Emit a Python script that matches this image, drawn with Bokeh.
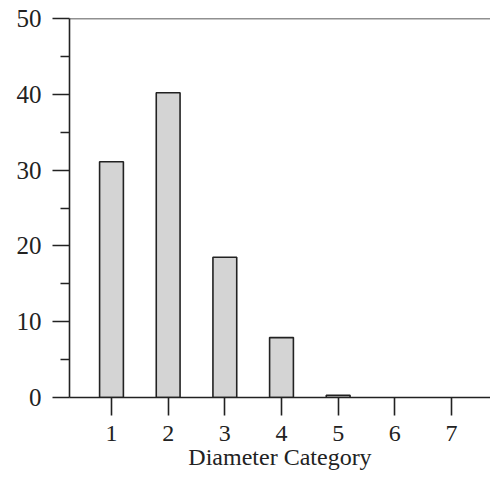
from bokeh.plotting import figure
from bokeh.models import Range1d, FixedTicker, Span
from bokeh.embed import file_html
from bokeh.resources import INLINE

categories = [1, 2, 3, 4, 5, 6, 7]
values = [31.1, 40.2, 18.5, 7.9, 0.3, 0.0, 0.0]
y_ticks = [0, 10, 20, 30, 40, 50]
y_minor = [5, 15, 25, 35, 45]
x_title = "Diameter Category"

FONT = "Liberation Serif"

p = figure(width=490, height=480, output_backend="svg", toolbar_location=None,
           x_range=Range1d(0.259, 7.688), y_range=Range1d(0, 50),
           min_border_left=69, min_border_top=18, min_border_bottom=83,
           min_border_right=0)
p.outline_line_color = None
p.grid.grid_line_color = None
p.background_fill_color = "white"
p.border_fill_color = "white"

nz_x = [c for c, v in zip(categories, values) if v > 0]
nz_v = [v for v in values if v > 0]
p.vbar(x=nz_x, top=nz_v, bottom=0, width=0.42,
       fill_color="#d4d4d4", line_color="#222222", line_width=1.6)

# top border line at 50
p.add_layout(Span(location=50, dimension="width", line_color="#222222", line_width=1.6))

# y axis
ya = p.yaxis[0]
ya.ticker = FixedTicker(ticks=y_ticks, minor_ticks=y_minor)
ya.major_tick_out = 17
ya.major_tick_in = 0
ya.minor_tick_out = 9
ya.minor_tick_in = 0
ya.major_label_standoff = 11
ya.major_label_text_font = FONT
ya.major_label_text_font_size = "25px"
ya.major_label_text_color = "#222222"
ya.axis_line_color = "#222222"
ya.axis_line_width = 1.6
ya.major_tick_line_color = "#222222"
ya.major_tick_line_width = 1.6
ya.minor_tick_line_color = "#222222"
ya.minor_tick_line_width = 1.6

# x axis
xa = p.xaxis[0]
xa.ticker = FixedTicker(ticks=categories, minor_ticks=[])
xa.major_tick_out = 18
xa.major_tick_in = 0
xa.minor_tick_out = 0
xa.major_label_standoff = 10
xa.major_label_text_font = FONT
xa.major_label_text_font_size = "24px"
xa.major_label_text_color = "#222222"
xa.axis_line_color = "#222222"
xa.axis_line_width = 1.6
xa.major_tick_line_color = "#222222"
xa.major_tick_line_width = 1.6
xa.axis_label = x_title
xa.axis_label_text_font = FONT
xa.axis_label_text_font_size = "24px"
xa.axis_label_text_font_style = "normal"
xa.axis_label_text_color = "#222222"
xa.axis_label_standoff = 0

open("out.html", "w").write(file_html(p, INLINE))
